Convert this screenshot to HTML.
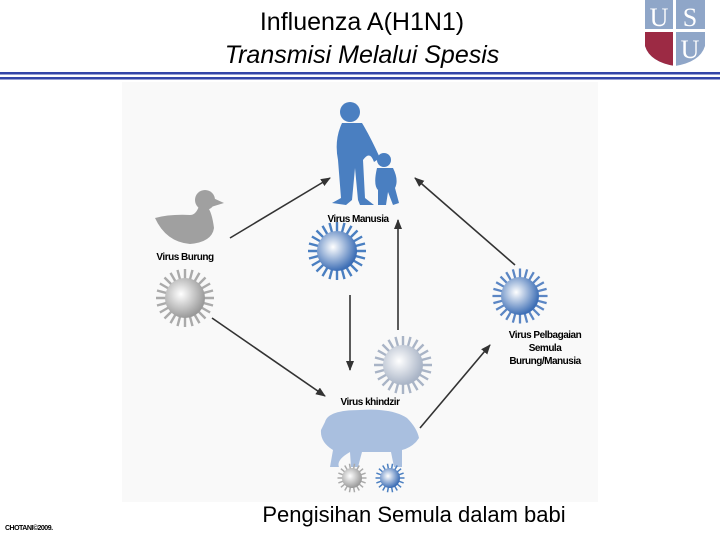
<!DOCTYPE html>
<html><head><meta charset="utf-8"><style>
body{margin:0;width:720px;height:540px;overflow:hidden;background:#fff;font-family:"Liberation Sans",sans-serif}
</style></head><body>
<svg width="720" height="540" viewBox="0 0 720 540" xmlns="http://www.w3.org/2000/svg">
<defs>
<radialGradient id="gg" cx="0.4" cy="0.4" r="0.6"><stop offset="0" stop-color="#fff"/><stop offset="1" stop-color="#9a9a9a"/></radialGradient>
<radialGradient id="bg" cx="0.4" cy="0.4" r="0.6"><stop offset="0" stop-color="#fff"/><stop offset="1" stop-color="#3d6eb5"/></radialGradient>
<radialGradient id="pg" cx="0.4" cy="0.4" r="0.6"><stop offset="0" stop-color="#fff"/><stop offset="1" stop-color="#a9b4c6"/></radialGradient>
<marker id="ah" markerWidth="10" markerHeight="8" refX="9" refY="4" orient="auto" markerUnits="userSpaceOnUse"><path d="M0,0 L10,4 L0,8 Z" fill="#333"/></marker>
</defs>
<rect x="122" y="82" width="476" height="420" fill="#f9f9f9"/>
<text x="362" y="30" font-size="25" text-anchor="middle">Influenza A(H1N1)</text>
<text x="362" y="63" font-size="25" font-style="italic" text-anchor="middle">Transmisi Melalui Spesis</text>
<rect x="645" y="0" width="60" height="36" fill="#8fa6c8"/>
<path d="M645,36 H705 V46 Q700,62 675,66 Q650,62 645,46 Z" fill="#8fa6c8"/>
<path d="M645,30 H675 V66 Q650,62 645,46 Z" fill="#9c2a44"/>
<rect x="673" y="0" width="3" height="66" fill="#fff"/>
<rect x="645" y="29" width="60" height="3" fill="#fff"/>
<text x="659" y="26" font-size="26" fill="#fff" font-family="Liberation Serif" text-anchor="middle">U</text>
<text x="690" y="26" font-size="26" fill="#fff" font-family="Liberation Serif" text-anchor="middle">S</text>
<text x="690" y="58" font-size="26" fill="#fff" font-family="Liberation Serif" text-anchor="middle">U</text>
<rect x="0" y="72" width="720" height="2.5" fill="#3346a8"/>
<rect x="0" y="77" width="720" height="2.5" fill="#3346a8"/>
<g fill="#4a7fc1">
<circle cx="350" cy="112" r="10"/>
<path d="M342,123 Q334,140 338,160 L341,198 L332,203 L346,205 L352,200 L355,168 L358,200 L360,205 L374,205 L365,198 L363,160 Q370,150 374,162 L380,158 Q370,136 362,123 Z"/>
<circle cx="384" cy="160" r="7"/>
<path d="M377,168 Q373,185 378,190 L378,205 L386,205 L388,192 L393,205 L399,203 L395,188 Q399,180 393,168 Z"/>
</g>
<g fill="#a0a0a0">
<circle cx="205" cy="200" r="10"/>
<path d="M213,198 L224,203 L211,207 Z"/>
<path d="M199,206 Q196,215 190,215 Q170,214 155,218 Q166,242 190,244 Q212,242 214,228 Q212,212 207,206 Z"/>
</g>
<g fill="#a9bfdf">
<path d="M325,422 Q328,410 360,410 Q392,408 407,418 Q417,428 419,438 L416,442 Q410,448 402,450 L402,467 L394,467 L391,452 L362,452 L358,467 L351,467 L350,452 Q336,460 339,467 L330,467 L333,450 Q320,442 321,430 Z"/>
</g>
<g stroke="#333" stroke-width="1.6" fill="none" marker-end="url(#ah)">
<line x1="230" y1="238" x2="330" y2="178"/>
<line x1="515" y1="265" x2="415" y2="178"/>
<line x1="350" y1="295" x2="350" y2="370"/>
<line x1="398" y1="330" x2="398" y2="220"/>
<line x1="212" y1="318" x2="325" y2="396"/>
<line x1="420" y1="428" x2="490" y2="345"/>
</g>
<g id="viruses"></g>
<g font-weight="bold" font-size="10" text-anchor="middle" letter-spacing="-0.5">
<text x="358" y="222">Virus Manusia</text>
<text x="185" y="260">Virus Burung</text>
<text x="545" y="338">Virus Pelbagaian</text>
<text x="545" y="351">Semula</text>
<text x="545" y="364">Burung/Manusia</text>
<text x="370" y="405">Virus khindzir</text>
</g>
<text x="414" y="522" font-size="22" text-anchor="middle">Pengisihan Semula dalam babi</text>
<text x="5" y="530" font-size="7" font-weight="bold" letter-spacing="-0.5">CHOTANI©2009.</text>
</svg>
<script>
var g=document.getElementById('viruses');var ns='http://www.w3.org/2000/svg';
function v(cx,cy,r,fill,sc,n){var s='';for(var i=0;i<n;i++){var a=i*2*Math.PI/n;s+='M'+(cx+Math.cos(a)*r*0.9)+','+(cy+Math.sin(a)*r*0.9)+'L'+(cx+Math.cos(a)*r*1.45)+','+(cy+Math.sin(a)*r*1.45);}
var p=document.createElementNS(ns,'path');p.setAttribute('d',s);p.setAttribute('stroke',sc);p.setAttribute('stroke-width',Math.max(1.5,r*0.12));g.appendChild(p);
var c=document.createElementNS(ns,'circle');c.setAttribute('cx',cx);c.setAttribute('cy',cy);c.setAttribute('r',r);c.setAttribute('fill',fill);g.appendChild(c);}
v(185,298,20,'url(#gg)','#aaa',24);
v(337,251,20,'url(#bg)','#4a7fc1',24);
v(403,365,20,'url(#pg)','#a9b4c6',24);
v(520,296,19,'url(#bg)','#5b86c4',24);
v(352,478,10,'url(#gg)','#aaa',18);
v(390,478,10,'url(#bg)','#4a7fc1',18);
</script>
</body></html>
